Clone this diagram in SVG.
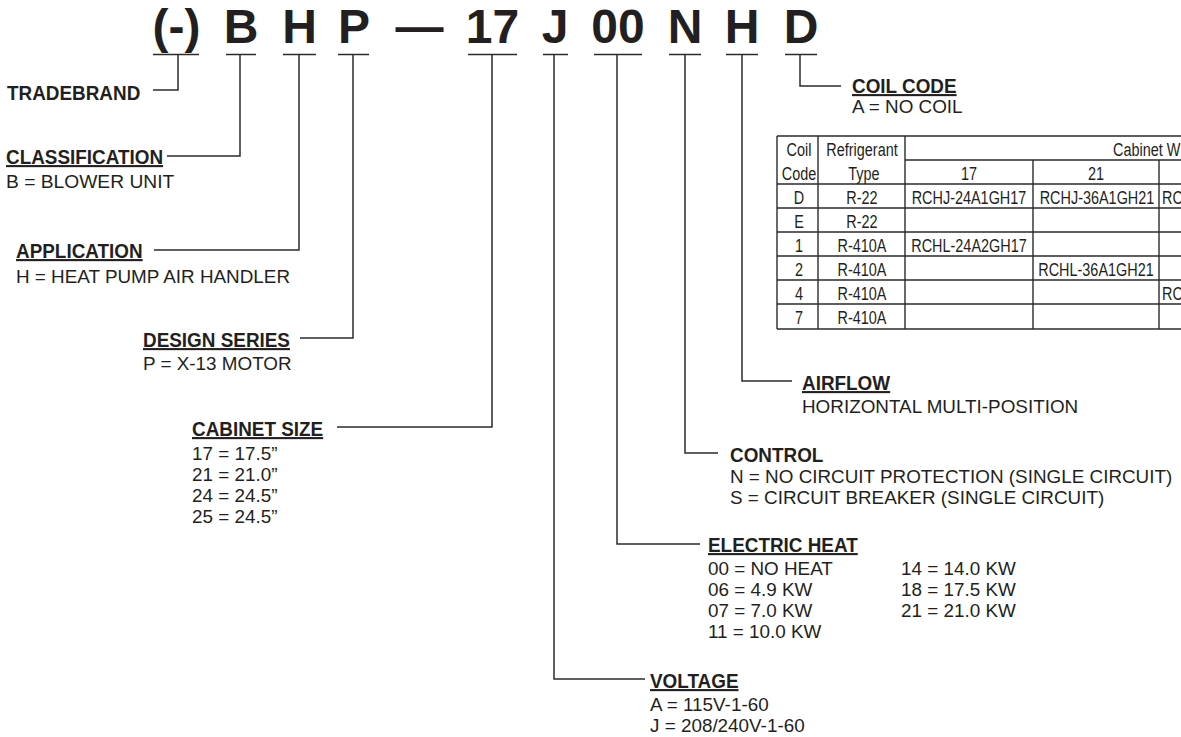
<svg xmlns="http://www.w3.org/2000/svg" width="1181" height="737" viewBox="0 0 1181 737">
<style>
text{font-family:"Liberation Sans",Arial,sans-serif;fill:#231f20}
.big{font-size:48px;font-weight:bold;text-anchor:middle}
.lb{font-size:21px;font-weight:bold}
.ul{text-decoration:underline}
.tx{font-size:18.5px}
.tb{font-size:19px;text-anchor:middle}
.tbs{font-size:19px}
.ln{fill:none;stroke:#2b2b2b;stroke-width:1.5}
.tl{fill:none;stroke:#2b2b2b;stroke-width:1.4}
</style>
<rect width="1181" height="737" fill="#fff"/>

<g id="code">
<text class="big" x="176.5" y="43">(-)</text>
<text class="big" x="241" y="43">B</text>
<text class="big" x="299.5" y="43">H</text>
<text class="big" x="354" y="43">P</text>
<text class="big" x="419.5" y="43">—</text>
<text class="big" x="492.5" y="43">17</text>
<text class="big" x="555" y="43">J</text>
<text class="big" x="618" y="43">00</text>
<text class="big" x="685" y="43">N</text>
<text class="big" x="742" y="43">H</text>
<text class="big" x="801" y="43">D</text>
<path class="ln" d="M153,54.5H199M226,54.5H256M283,54.5H316M338,54.5H369M468,54.5H517M543,54.5H568M594,54.5H642M669,54.5H701M726,54.5H758M785,54.5H817"/>
</g>

<g id="connectors">
<path class="ln" d="M178,54.5V90H153"/>
<path class="ln" d="M240,54.5V156H167"/>
<path class="ln" d="M299,54.5V250H154"/>
<path class="ln" d="M353,54.5V338H300"/>
<path class="ln" d="M492,54.5V427H337"/>
<path class="ln" d="M554,54.5V679H645"/>
<path class="ln" d="M617,54.5V544H700"/>
<path class="ln" d="M685,54.5V453H718"/>
<path class="ln" d="M742,54.5V381H792"/>
<path class="ln" d="M800,54.5V86H841"/>
</g>

<g id="tradebrand">
<text class="lb" transform="translate(7,100) scale(.9,1)">TRADEBRAND</text>
</g>

<g id="classification">
<text class="lb ul" transform="translate(6,164) scale(.9,1)">CLASSIFICATION</text>
<text class="tx" transform="translate(6,188) scale(1.04,1)">B = BLOWER UNIT</text>
</g>

<g id="application">
<text class="lb ul" transform="translate(16,258) scale(.9,1)">APPLICATION</text>
<text class="tx" transform="translate(16,283) scale(1.02,1)">H = HEAT PUMP AIR HANDLER</text>
</g>

<g id="design-series">
<text class="lb ul" transform="translate(143,347) scale(.9,1)">DESIGN SERIES</text>
<text class="tx" transform="translate(143,370) scale(1.02,1)">P = X-13 MOTOR</text>
</g>

<g id="cabinet-size">
<text class="lb ul" transform="translate(192,436) scale(.9,1)">CABINET SIZE</text>
<text class="tx" transform="translate(192,460) scale(1.02,1)">17 = 17.5”</text>
<text class="tx" transform="translate(192,481) scale(1.02,1)">21 = 21.0”</text>
<text class="tx" transform="translate(192,502) scale(1.02,1)">24 = 24.5”</text>
<text class="tx" transform="translate(192,523) scale(1.02,1)">25 = 24.5”</text>
</g>

<g id="voltage">
<text class="lb ul" transform="translate(650,688) scale(.9,1)">VOLTAGE</text>
<text class="tx" transform="translate(650,711) scale(1.02,1)">A = 115V-1-60</text>
<text class="tx" transform="translate(650,732) scale(1.02,1)">J = 208/240V-1-60</text>
</g>

<g id="electric-heat">
<text class="lb ul" transform="translate(708,552) scale(.9,1)">ELECTRIC HEAT</text>
<text class="tx" transform="translate(708,575) scale(1.02,1)">00 = NO HEAT</text>
<text class="tx" transform="translate(708,596) scale(1.02,1)">06 = 4.9 KW</text>
<text class="tx" transform="translate(708,617) scale(1.02,1)">07 = 7.0 KW</text>
<text class="tx" transform="translate(708,638) scale(1.02,1)">11 = 10.0 KW</text>
<text class="tx" transform="translate(901,575) scale(1.02,1)">14 = 14.0 KW</text>
<text class="tx" transform="translate(901,596) scale(1.02,1)">18 = 17.5 KW</text>
<text class="tx" transform="translate(901,617) scale(1.02,1)">21 = 21.0 KW</text>
</g>

<g id="control">
<text class="lb" transform="translate(730,462) scale(.9,1)">CONTROL</text>
<text class="tx" transform="translate(730,483) scale(1.02,1)">N = NO CIRCUIT PROTECTION (SINGLE CIRCUIT)</text>
<text class="tx" transform="translate(730,504) scale(1.02,1)">S = CIRCUIT BREAKER (SINGLE CIRCUIT)</text>
</g>

<g id="airflow">
<text class="lb ul" transform="translate(802,390) scale(.9,1)">AIRFLOW</text>
<text class="tx" transform="translate(802,413) scale(1.02,1)">HORIZONTAL MULTI-POSITION</text>
</g>

<g id="coil-code">
<text class="lb ul" transform="translate(852,93) scale(.9,1)">COIL CODE</text>
<text class="tx" transform="translate(852,113) scale(1.02,1)">A = NO COIL</text>
</g>

<g id="coil-table">
<path class="tl" d="M777,136H1181M905,160H1181M777,184H1181M777,208H1181M777,232H1181M777,256H1181M777,280H1181M777,304H1181M777,329H1181"/>
<path class="tl" d="M777,136V329M818,136V329M905,136V329M1033,160V329M1159,160V329"/>
<text class="tb" transform="translate(799,156) scale(.76,1)">Coil</text>
<text class="tb" transform="translate(799,180) scale(.76,1)">Code</text>
<text class="tb" transform="translate(862,156) scale(.76,1)">Refrigerant</text>
<text class="tb" transform="translate(864,180) scale(.76,1)">Type</text>
<text class="tbs" transform="translate(1113,156) scale(.76,1)">Cabinet W</text>
<text class="tb" transform="translate(969,180) scale(.76,1)">17</text>
<text class="tb" transform="translate(1096,180) scale(.76,1)">21</text>
<text class="tb" transform="translate(799,204) scale(.76,1)">D</text>
<text class="tb" transform="translate(862,204) scale(.76,1)">R-22</text>
<text class="tb" transform="translate(969,204) scale(.76,1)">RCHJ-24A1GH17</text>
<text class="tb" transform="translate(1097,204) scale(.76,1)">RCHJ-36A1GH21</text>
<text class="tbs" transform="translate(1162,204) scale(.76,1)">RC</text>
<text class="tb" transform="translate(799,228) scale(.76,1)">E</text>
<text class="tb" transform="translate(862,228) scale(.76,1)">R-22</text>
<text class="tb" transform="translate(799,252) scale(.76,1)">1</text>
<text class="tb" transform="translate(862,252) scale(.76,1)">R-410A</text>
<text class="tb" transform="translate(969,252) scale(.76,1)">RCHL-24A2GH17</text>
<text class="tb" transform="translate(799,276) scale(.76,1)">2</text>
<text class="tb" transform="translate(862,276) scale(.76,1)">R-410A</text>
<text class="tb" transform="translate(1096,276) scale(.76,1)">RCHL-36A1GH21</text>
<text class="tb" transform="translate(799,300) scale(.76,1)">4</text>
<text class="tb" transform="translate(862,300) scale(.76,1)">R-410A</text>
<text class="tbs" transform="translate(1162,300) scale(.76,1)">RC</text>
<text class="tb" transform="translate(799,324) scale(.76,1)">7</text>
<text class="tb" transform="translate(862,324) scale(.76,1)">R-410A</text>
</g>
</svg>
